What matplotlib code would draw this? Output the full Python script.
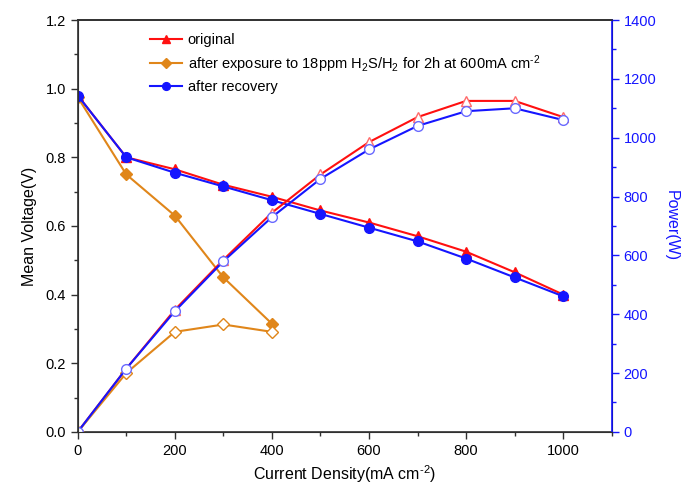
import matplotlib
matplotlib.use("Agg")
import matplotlib.pyplot as plt
from matplotlib.ticker import MultipleLocator

plt.rcParams['font.family'] = ['Liberation Sans', 'DejaVu Sans']
plt.rcParams['mathtext.fontset'] = 'custom'
plt.rcParams['mathtext.rm'] = 'Liberation Sans'
plt.rcParams['mathtext.it'] = 'Liberation Sans'

current = [0, 100, 200, 300, 400, 500, 600, 700, 800, 900, 1000]
current_h2s = [0, 100, 200, 300, 400]

v_original = [0.98, 0.80, 0.765, 0.72, 0.685, 0.645, 0.61, 0.57, 0.525, 0.465, 0.40]
v_recovery = [0.98, 0.80, 0.755, 0.715, 0.675, 0.635, 0.595, 0.555, 0.505, 0.45, 0.395]
v_h2s = [0.975, 0.75, 0.63, 0.45, 0.315]

p_original = [0, 215, 415, 585, 745, 875, 985, 1070, 1125, 1125, 1070]
p_recovery = [0, 215, 410, 580, 730, 860, 960, 1040, 1090, 1100, 1060]
p_h2s = [0, 200, 340, 365, 340]

labels = ["original",
          "after exposure to 18ppm H$_2$S/H$_2$ for 2h at 600mA cm$^{\\text{-}2}$",
          "after recovery"]

RED = '#ff1010'
ORANGE = '#e0861a'
BLUE = '#1515ff'
SPINE = '#303030'

fig = plt.figure(figsize=(6.82, 4.88), dpi=100)
ax = fig.add_axes([0.114, 0.115, 0.783, 0.844])
ax2 = ax.twinx()

lw = 1.5
ms = 7
h1, = ax.plot(current, v_original, color=RED, lw=lw, marker='^', ms=ms, mfc=RED, mec=RED, zorder=3)
h2, = ax.plot(current_h2s, v_h2s, color=ORANGE, lw=lw, marker='D', ms=6, mfc=ORANGE, mec=ORANGE, zorder=3)
h3, = ax.plot(current, v_recovery, color=BLUE, lw=lw, marker='o', ms=ms, mfc=BLUE, mec=BLUE, zorder=4)

ax2.plot(current, p_original, color=RED, lw=lw, marker='^', ms=ms, mfc='white', mec='#ff6a6a', mew=1.0)
ax2.plot(current_h2s, p_h2s, color=ORANGE, lw=lw, marker='D', ms=6, mfc='white', mec=ORANGE, mew=1.0)
ax2.plot(current, p_recovery, color=BLUE, lw=lw, marker='o', ms=ms, mfc='white', mec='#6a6aff', mew=1.0)

ax.set_xlim(0, 1100)
ax.set_ylim(0, 1.2)
ax2.set_ylim(0, 1400)

ax.xaxis.set_major_locator(MultipleLocator(200))
ax.xaxis.set_minor_locator(MultipleLocator(100))
ax.yaxis.set_major_locator(MultipleLocator(0.2))
ax.yaxis.set_minor_locator(MultipleLocator(0.1))
ax2.yaxis.set_major_locator(MultipleLocator(200))
ax2.yaxis.set_minor_locator(MultipleLocator(100))
ax.yaxis.set_major_formatter(matplotlib.ticker.FormatStrFormatter('%.1f'))

ax.tick_params(axis='both', which='major', direction='out', length=5, width=1, labelsize=10.5,
               color=SPINE)
ax.tick_params(axis='both', which='minor', direction='out', length=3, width=1, color=SPINE)
ax2.tick_params(axis='y', which='major', direction='out', length=5, width=1, labelsize=10.5,
                colors=BLUE)
ax2.tick_params(axis='y', which='minor', direction='out', length=3, width=1, colors=BLUE)

for s in ['left', 'bottom', 'top']:
    ax.spines[s].set_linewidth(1.2)
    ax.spines[s].set_color(SPINE)
ax2.spines['left'].set_color(SPINE)
ax2.spines['bottom'].set_color(SPINE)
ax2.spines['top'].set_color(SPINE)
ax2.spines['right'].set_color(BLUE)
ax2.spines['right'].set_linewidth(1.2)
ax2.spines['top'].set_linewidth(1.2)

ax.set_xlabel("Current Density(mA cm$^{\\text{-}2}$)", fontsize=11.5, labelpad=4)
ax.set_ylabel("Mean Voltage(V)", fontsize=11.5, labelpad=6)
ax2.set_ylabel("Power(W)", fontsize=11.5, color=BLUE, rotation=270, labelpad=16)

leg = ax.legend([h1, h2, h3], labels, loc='upper left', bbox_to_anchor=(0.11, 1.0),
                frameon=False, fontsize=10.5, handlelength=2.2, handletextpad=0.4,
                labelspacing=0.4, markerscale=0.8)

fig.savefig("out.png", dpi=100)
